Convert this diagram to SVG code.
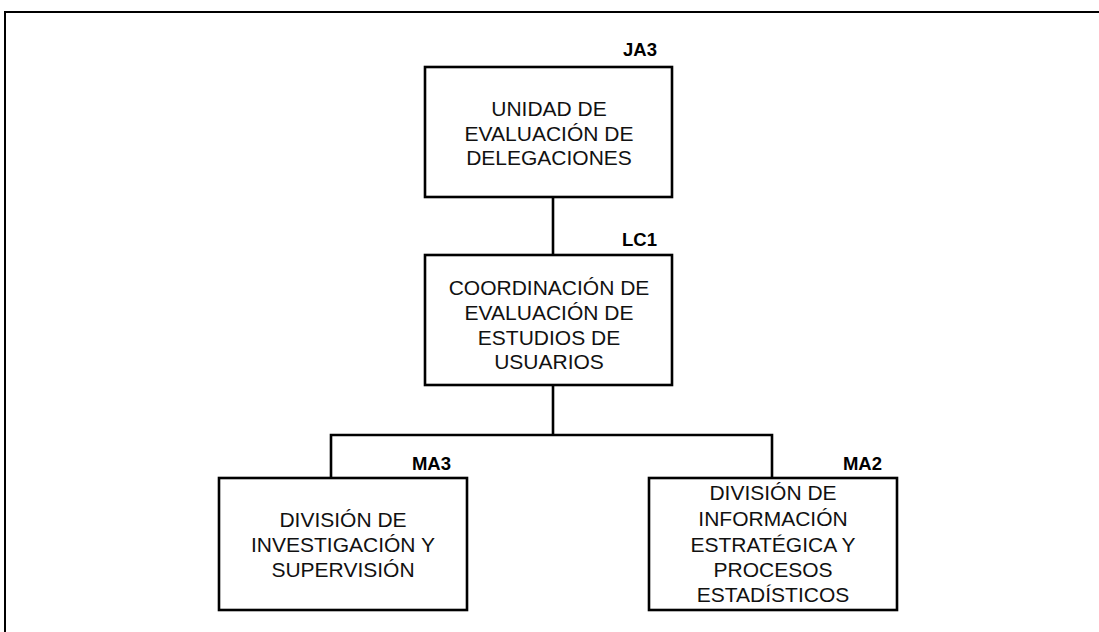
<svg xmlns="http://www.w3.org/2000/svg" width="1099" height="632" viewBox="0 0 1099 632">
<style>
.box{fill:#fff;stroke:#000;stroke-width:2.6}
.t{font-family:"Liberation Sans",Arial,sans-serif;font-size:21px;fill:#111;text-anchor:middle}
.lbl{font-family:"Liberation Sans",Arial,sans-serif;font-size:18.5px;font-weight:bold;fill:#000;text-anchor:end}
.c{stroke:#000;stroke-width:2.6;fill:none}
</style>
<rect x="0" y="0" width="1099" height="632" fill="#fff"/>
<rect x="5" y="12" width="1100" height="630" fill="none" stroke="#000" stroke-width="2"/>
<g id="connectors">
<line class="c" x1="553" y1="197" x2="553" y2="255"/>
<line class="c" x1="553" y1="385" x2="553" y2="435"/>
<polyline class="c" points="331,478 331,435 772,435 772,478"/>
</g>
<g id="n-ja3">
<rect class="box" x="425" y="67" width="247" height="130"/>
<text class="lbl" x="657" y="56">JA3</text>
<text class="t" x="549" y="116">UNIDAD DE</text>
<text class="t" x="549" y="141">EVALUACIÓN DE</text>
<text class="t" x="549" y="165">DELEGACIONES</text>
</g>
<g id="n-lc1">
<rect class="box" x="425" y="255" width="247" height="130"/>
<text class="lbl" x="657" y="246">LC1</text>
<text class="t" x="549" y="295">COORDINACIÓN DE</text>
<text class="t" x="549" y="320">EVALUACIÓN DE</text>
<text class="t" x="549" y="345">ESTUDIOS DE</text>
<text class="t" x="549" y="369">USUARIOS</text>
</g>
<g id="n-ma3">
<rect class="box" x="219" y="478" width="248" height="132"/>
<text class="lbl" x="451" y="470">MA3</text>
<text class="t" x="343" y="527">DIVISIÓN DE</text>
<text class="t" x="343" y="552">INVESTIGACIÓN Y</text>
<text class="t" x="343" y="577">SUPERVISIÓN</text>
</g>
<g id="n-ma2">
<rect class="box" x="649" y="478" width="248" height="132"/>
<text class="lbl" x="882" y="470">MA2</text>
<text class="t" x="773" y="500">DIVISIÓN DE</text>
<text class="t" x="773" y="526">INFORMACIÓN</text>
<text class="t" x="773" y="552">ESTRATÉGICA Y</text>
<text class="t" x="773" y="577">PROCESOS</text>
<text class="t" x="773" y="602">ESTADÍSTICOS</text>
</g>
</svg>
